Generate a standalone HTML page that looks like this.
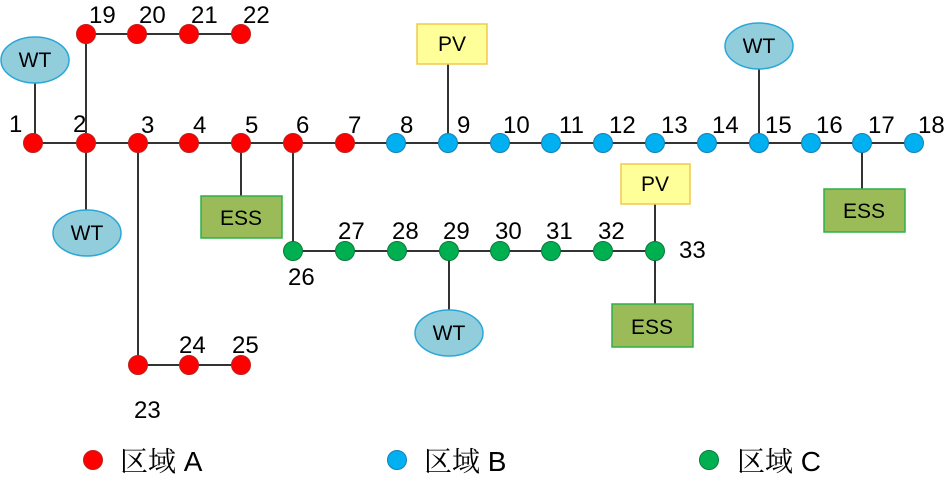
<!DOCTYPE html>
<html><head><meta charset="utf-8"><style>
html,body{margin:0;padding:0;background:#fff;}
svg{display:block;}
text{font-family:"Liberation Sans","Noto Sans CJK SC",sans-serif;fill:#000;}
</style></head><body>
<svg width="946" height="480" viewBox="0 0 946 480" xmlns="http://www.w3.org/2000/svg">
<g stroke="#333" stroke-width="2" fill="none">
<line x1="33" y1="143" x2="914" y2="143"/>
<line x1="86" y1="34" x2="241" y2="34"/>
<line x1="86" y1="34" x2="86" y2="210"/>
<line x1="35" y1="83" x2="35" y2="143"/>
<line x1="138" y1="143" x2="138" y2="365"/>
<line x1="138" y1="365" x2="241" y2="365"/>
<line x1="241" y1="143" x2="241" y2="196"/>
<line x1="293" y1="143" x2="293" y2="251"/>
<line x1="293" y1="251" x2="655" y2="251"/>
<line x1="448" y1="64" x2="448" y2="143"/>
<line x1="759" y1="69" x2="759" y2="143"/>
<line x1="862" y1="143" x2="862" y2="189"/>
<line x1="449" y1="251" x2="449" y2="310"/>
<line x1="655" y1="204" x2="655" y2="304"/>
</g>
<g stroke="#2aa7d8" stroke-width="1.5" fill="#92cddc">
<ellipse cx="35" cy="60" rx="34" ry="23"/>
<ellipse cx="87" cy="233" rx="34" ry="23"/>
<ellipse cx="449" cy="333" rx="34" ry="23"/>
<ellipse cx="759" cy="46" rx="34" ry="23"/>
</g>
<g stroke="#f2c94c" stroke-width="1.5" fill="#ffff99">
<rect x="417" y="24" width="70" height="40"/>
<rect x="621" y="164" width="69" height="40"/>
</g>
<g stroke="#2eb04a" stroke-width="1.5" fill="#9bbb59">
<rect x="201" y="196" width="81" height="42"/>
<rect x="824" y="189" width="81" height="43"/>
<rect x="612" y="304" width="81" height="43"/>
</g>
<g font-size="21" text-anchor="middle">
<text x="35" y="67">WT</text><text x="87" y="240">WT</text><text x="449" y="340">WT</text><text x="759" y="53">WT</text>
<text x="452" y="51">PV</text><text x="655" y="191">PV</text>
<text x="241" y="225">ESS</text><text x="864" y="218">ESS</text><text x="652" y="334">ESS</text>
</g>
<g stroke="#b22" stroke-width="1" fill="#ff0000">
<circle cx="33" cy="143" r="9.5"/><circle cx="86" cy="143" r="9.5"/><circle cx="138" cy="143" r="9.5"/><circle cx="189" cy="143" r="9.5"/><circle cx="241" cy="143" r="9.5"/><circle cx="293" cy="143" r="9.5"/><circle cx="345" cy="143" r="9.5"/>
<circle cx="86" cy="34" r="9.5"/><circle cx="137" cy="34" r="9.5"/><circle cx="189" cy="34" r="9.5"/><circle cx="241" cy="34" r="9.5"/>
<circle cx="138" cy="365" r="9.5"/><circle cx="189" cy="365" r="9.5"/><circle cx="241" cy="365" r="9.5"/>
<circle cx="93" cy="460" r="9.5"/>
</g>
<g stroke="#1a7fb5" stroke-width="1" fill="#00b0f0">
<circle cx="396" cy="143" r="9.5"/><circle cx="448" cy="143" r="9.5"/><circle cx="500" cy="143" r="9.5"/><circle cx="551" cy="143" r="9.5"/><circle cx="603" cy="143" r="9.5"/><circle cx="655" cy="143" r="9.5"/><circle cx="707" cy="143" r="9.5"/><circle cx="759" cy="143" r="9.5"/><circle cx="811" cy="143" r="9.5"/><circle cx="862" cy="143" r="9.5"/><circle cx="914" cy="143" r="9.5"/>
<circle cx="397" cy="460" r="9.5"/>
</g>
<g stroke="#0a7a3a" stroke-width="1" fill="#00b050">
<circle cx="293" cy="251" r="9.5"/><circle cx="345" cy="251" r="9.5"/><circle cx="397" cy="251" r="9.5"/><circle cx="449" cy="251" r="9.5"/><circle cx="500" cy="251" r="9.5"/><circle cx="551" cy="251" r="9.5"/><circle cx="603" cy="251" r="9.5"/><circle cx="655" cy="251" r="9.5"/>
<circle cx="709" cy="460" r="9.5"/>
</g>
<g font-size="24">
<text x="9" y="132">1</text><text x="73" y="132">2</text><text x="141" y="133">3</text><text x="193" y="133">4</text><text x="245" y="133">5</text><text x="296" y="133">6</text><text x="348" y="133">7</text>
<text x="400" y="133">8</text><text x="457" y="133">9</text><text x="503" y="133">10</text><text x="559" y="133">11</text><text x="609" y="133">12</text><text x="661" y="133">13</text><text x="712" y="133">14</text><text x="765" y="133">15</text><text x="816" y="133">16</text><text x="868" y="133">17</text><text x="918" y="133">18</text>
<text x="89" y="23">19</text><text x="139" y="23">20</text><text x="191" y="23">21</text><text x="243" y="23">22</text>
<text x="134" y="418">23</text><text x="179" y="353">24</text><text x="232" y="353">25</text>
<text x="288" y="285">26</text><text x="338" y="239">27</text><text x="392" y="239">28</text><text x="443" y="239">29</text><text x="495" y="239">30</text><text x="546" y="239">31</text><text x="598" y="239">32</text><text x="679" y="258">33</text>
</g>
<g font-size="28">
<text x="120" y="471"><tspan font-family="'Noto Serif CJK SC',serif">区域</tspan> A</text>
<text x="424" y="471"><tspan font-family="'Noto Serif CJK SC',serif">区域</tspan> B</text>
<text x="737" y="471"><tspan font-family="'Noto Serif CJK SC',serif">区域</tspan> C</text>
</g>
</svg>
</body></html>
